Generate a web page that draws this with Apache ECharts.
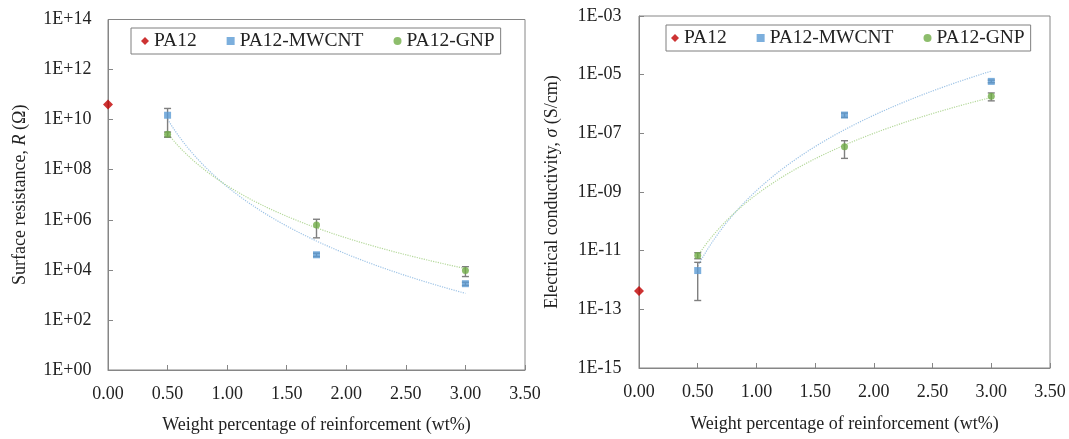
<!DOCTYPE html>
<html><head><meta charset="utf-8">
<script src="https://cdn.jsdelivr.net/npm/echarts@6/dist/echarts.min.js"></script>
<style>html,body{margin:0;padding:0;background:#fff}#c{width:1069px;height:439px}</style>
</head><body><div id="c"></div>
<script>
// ---- data ----
const seriesNames = ['PA12', 'PA12-MWCNT', 'PA12-GNP'];
const pa12X = [0];
const wtX = [0.5, 1.75, 3.0];

// Left: surface resistance R (Ω)
const resPA12 = [4.0e10];
const resMWCNT = [1.5e10, 4.0e4, 2.8e3];
const resMWCNTErr = [1.3e10, 6.0e3, 4.0e2];
const resGNP = [2.6e9, 6.2e5, 9.4e3];
const resGNPErr = [0.6e9, 4.3e5, 4.0e3];

// Right: electrical conductivity σ (S/cm)
const conPA12 = [4.2e-13];
const conMWCNT = [2.1e-12, 4.2e-7, 5.9e-6];
const conMWCNTErr = [1.9e-12, 0.7e-7, 0.6e-6];
const conGNP = [6.9e-12, 3.5e-8, 1.83e-6];
const conGNPErr = [1.6e-12, 2.1e-8, 0.55e-6];

// axis ranges (decades)
const resRange = [0, 14];
const conRange = [-15, -3];
const xRange = [0, 3.5];

// ---- helpers ----
const FONT = "'Liberation Serif', 'Times New Roman', serif";
const TXT = '#222';
const AXC = '#868686';
const C_RED = '#c00000', C_BLUE = '#5b9bd5', C_GREEN = '#70ad47';
const T_BLUE = '#9dc3e6', T_GREEN = '#b4d89a';

function expLabel(v) {
  const e = Math.round(v);
  const a = Math.abs(e);
  return '1E' + (e < 0 ? '-' : '+') + (a < 10 ? '0' : '') + a;
}
const lg = Math.log10;
function pts(xs, ys) { return xs.map((x, i) => [x, lg(ys[i])]); }
function errs(xs, ys, es) { return xs.map((x, i) => [x, lg(ys[i] - es[i]), lg(ys[i] + es[i])]); }
// Power-law (Excel "power" trendline) least-squares fit in log-log space
function powerTrend(xs, ys) {
  const lx = xs.map(lg), ly = ys.map(lg);
  const n = lx.length;
  const mx = lx.reduce((a, b) => a + b, 0) / n, my = ly.reduce((a, b) => a + b, 0) / n;
  let sxy = 0, sxx = 0;
  for (let i = 0; i < n; i++) { sxy += (lx[i] - mx) * (ly[i] - my); sxx += (lx[i] - mx) ** 2; }
  const b = sxy / sxx, a = my - b * mx;
  const out = [];
  const x0 = xs[0], x1 = xs[n - 1], steps = 60;
  for (let k = 0; k <= steps; k++) {
    const x = x0 + (x1 - x0) * k / steps;
    out.push([x, a + b * lg(x)]);
  }
  return out;
}
function errItem(params, api) {
  const x = api.value(0), lo = api.value(1), hi = api.value(2);
  const p1 = api.coord([x, hi]), p2 = api.coord([x, lo]);
  const w = 3.5;
  const st = { stroke: '#7f7f7f', lineWidth: 1.4 };
  return { type: 'group', children: [
    { type: 'line', shape: { x1: p1[0], y1: p1[1], x2: p2[0], y2: p2[1] }, style: st },
    { type: 'line', shape: { x1: p1[0] - w, y1: p1[1], x2: p1[0] + w, y2: p1[1] }, style: st },
    { type: 'line', shape: { x1: p2[0] - w, y1: p2[1], x2: p2[0] + w, y2: p2[1] }, style: st }
  ]};
}

function chartSeries(idx, pa, mw, mwE, gn, gnE) {
  return [
    { type: 'line', xAxisIndex: idx, yAxisIndex: idx, data: powerTrend(wtX, mw), showSymbol: false, silent: true,
      lineStyle: { color: T_BLUE, width: 1.2, type: 'dotted' }, z: 1 },
    { type: 'line', xAxisIndex: idx, yAxisIndex: idx, data: powerTrend(wtX, gn), showSymbol: false, silent: true,
      lineStyle: { color: T_GREEN, width: 1.2, type: 'dotted' }, z: 1 },
    { type: 'custom', xAxisIndex: idx, yAxisIndex: idx, renderItem: errItem, data: errs(wtX, mw, mwE),
      encode: { x: 0, y: [1, 2] }, z: 2 },
    { type: 'custom', xAxisIndex: idx, yAxisIndex: idx, renderItem: errItem, data: errs(wtX, gn, gnE),
      encode: { x: 0, y: [1, 2] }, z: 2 },
    { name: seriesNames[0], type: 'scatter', xAxisIndex: idx, yAxisIndex: idx, data: pts(pa12X, pa),
      symbol: 'diamond', symbolSize: 10, itemStyle: { color: C_RED }, clip: false, z: 3 },
    { name: seriesNames[1], type: 'scatter', xAxisIndex: idx, yAxisIndex: idx, data: pts(wtX, mw),
      symbol: 'rect', symbolSize: 7, itemStyle: { color: C_BLUE }, clip: false, z: 3 },
    { name: seriesNames[2], type: 'scatter', xAxisIndex: idx, yAxisIndex: idx, data: pts(wtX, gn),
      symbol: 'circle', symbolSize: 7, itemStyle: { color: C_GREEN }, clip: false, z: 3 }
  ];
}

function xAxisCfg(idx, margin, gap) {
  return {
    type: 'value', gridIndex: idx, min: xRange[0], max: xRange[1], interval: 0.5,
    axisLine: { show: true, onZero: false, lineStyle: { color: AXC, width: 1 } },
    axisTick: { show: true, inside: true, length: 5, lineStyle: { color: AXC } },
    splitLine: { show: false },
    axisLabel: { formatter: v => v.toFixed(2), fontFamily: FONT, fontSize: 18, color: TXT, margin: margin },
    name: 'Weight percentage of reinforcement (wt%)', nameLocation: 'middle', nameGap: gap,
    nameTextStyle: { fontFamily: FONT, fontSize: 18, color: TXT }
  };
}
function yAxisCfg(idx, range, name, margin, gap) {
  return {
    type: 'value', gridIndex: idx, min: range[0], max: range[1], interval: 2,
    axisLine: { show: true, onZero: false, lineStyle: { color: AXC, width: 1 } },
    axisTick: { show: true, inside: true, length: 5, lineStyle: { color: AXC } },
    splitLine: { show: false },
    axisLabel: { formatter: expLabel, fontFamily: FONT, fontSize: 18, color: TXT, margin: margin },
    name: name, nameLocation: 'middle', nameGap: gap,
    nameTextStyle: { fontFamily: FONT, fontSize: 18, color: TXT,
      rich: { n: { fontFamily: FONT, fontSize: 18, color: TXT }, i: { fontFamily: FONT, fontSize: 18, color: TXT, fontStyle: 'italic' } } }
  };
}
function legendCfg(left, top, padLeft) {
  return {
    left: left, top: top, orient: 'horizontal', itemGap: 30, itemWidth: 8, itemHeight: 8,
    padding: [3, 6, 3, padLeft], borderColor: '#7f7f7f', borderWidth: 1, backgroundColor: '#fff',
    textStyle: { fontFamily: FONT, fontSize: 19.5, color: TXT },
    data: [
      { name: seriesNames[0], icon: 'diamond' },
      { name: seriesNames[1], icon: 'rect' },
      { name: seriesNames[2], icon: 'circle' }
    ],
    selectedMode: false
  };
}

const chart = echarts.init(document.getElementById('c'), null, { renderer: 'canvas' });
chart.setOption({
  animation: false,
  backgroundColor: '#fff',
  grid: [
    { left: 108, top: 19.5, width: 417, height: 354, show: true, borderColor: AXC, borderWidth: 1, containLabel: false },
    { left: 639, top: 16, width: 411, height: 352, show: true, borderColor: AXC, borderWidth: 1, containLabel: false }
  ],
  legend: [legendCfg(131, 28, 10), legendCfg(666, 25, 5)],
  xAxis: [xAxisCfg(0, 15, 46), xAxisCfg(1, 15, 47)],
  yAxis: [
    yAxisCfg(0, resRange, '{n|Surface resistance, }{i|R}{n| (Ω)}', 16.5, 79),
    yAxisCfg(1, conRange, '{n|Electrical conductivity, }{i|σ}{n| (S/cm)}', 17.5, 78)
  ],
  series: [
    ...chartSeries(0, resPA12, resMWCNT, resMWCNTErr, resGNP, resGNPErr),
    ...chartSeries(1, conPA12, conMWCNT, conMWCNTErr, conGNP, conGNPErr)
  ]
});
</script>
</body></html>
